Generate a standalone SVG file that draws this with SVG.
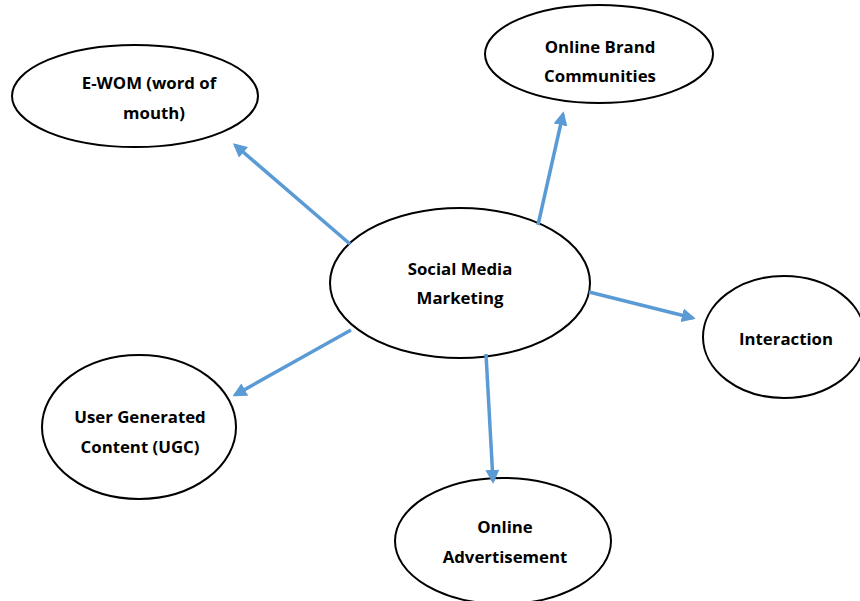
<svg xmlns="http://www.w3.org/2000/svg" width="860" height="601" viewBox="0 0 860 601">
<style>
.node ellipse{fill:#fff;stroke:#000;stroke-width:2}
.node text{font-family:"Open Sans","Liberation Sans",sans-serif;font-weight:bold;font-size:16.8px;fill:#000;text-anchor:middle}
.conn line{stroke:#5B9BD5;stroke-width:3.5;marker-end:url(#ah)}
</style>
<defs>
<marker id="ah" viewBox="0 0 10 10" refX="8" refY="5" markerWidth="4" markerHeight="4" orient="auto" markerUnits="strokeWidth">
<path d="M0,0L10,5L0,10z" fill="#5B9BD5"/>
</marker>
</defs>
<rect width="860" height="601" fill="#fff"/>
<g id="ewom" class="node"><ellipse cx="135" cy="96" rx="123" ry="51"/><text x="149" y="89">E-WOM (word of</text><text x="154" y="119">mouth)</text></g>
<g id="obc" class="node"><ellipse cx="599" cy="54" rx="114" ry="49"/><text x="600" y="53">Online Brand</text><text x="600" y="82">Communities</text></g>
<g id="smm" class="node"><ellipse cx="460" cy="283" rx="130" ry="75"/><text x="460" y="275">Social Media</text><text x="460" y="304">Marketing</text></g>
<g id="interaction" class="node"><ellipse cx="784" cy="337" rx="81" ry="61"/><text x="786" y="345">Interaction</text></g>
<g id="ugc" class="node"><ellipse cx="139" cy="427" rx="97" ry="72"/><text x="140" y="423">User Generated</text><text x="140" y="453">Content (UGC)</text></g>
<g id="oa" class="node"><ellipse cx="503" cy="541" rx="108" ry="63"/><text x="505" y="533">Online</text><text x="505" y="563">Advertisement</text></g>
<g id="connectors" class="conn">
<line x1="350" y1="244" x2="235" y2="145"/>
<line x1="538" y1="225" x2="563" y2="114"/>
<line x1="589" y1="292" x2="693" y2="318"/>
<line x1="351" y1="330" x2="235" y2="395"/>
<line x1="486" y1="354" x2="493" y2="481"/>
</g>
</svg>
